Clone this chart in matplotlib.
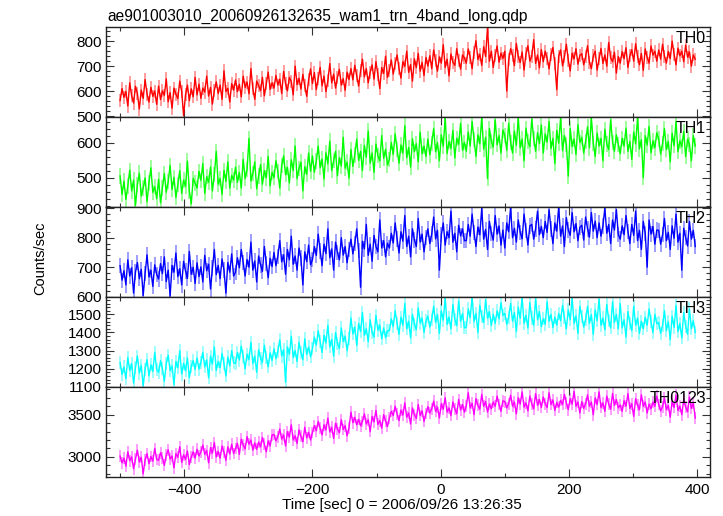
import numpy as np
import matplotlib
matplotlib.use("Agg")
import matplotlib.pyplot as plt
from matplotlib.ticker import MultipleLocator

plt.rcParams['font.family'] = ['Liberation Sans', 'DejaVu Sans']

title = "ae901003010_20060926132635_wam1_trn_4band_long.qdp"
xlabel = "Time [sec] 0 = 2006/09/26 13:26:35"
ylabel = "Counts/sec"
band_names = ["TH0", "TH1", "TH2", "TH3", "TH0123"]
band_colors = ["#ff0000", "#00ff00", "#0000ff", "#00ffff", "#ff00ff"]

# time bins: start (s) and bin width (s)
t_start = -500
t_bin = 3

th0 = [
    562, 610, 575, 598, 540, 633, 581, 552, 619, 590, 528, 604, 571, 646, 588, 556, 615, 579, 600, 547,
    620, 566, 601, 583, 649, 557, 594, 531, 612, 588, 570, 640, 599, 502, 585, 624, 562, 609, 577, 655,
    585, 628, 571, 612, 596, 660, 580, 615, 548, 603, 637, 590, 624, 567, 681, 598, 611, 556, 630, 604,
    645, 598, 627, 577, 660, 615, 636, 589, 690, 610, 567, 640, 622, 602, 655, 581, 629, 676, 607, 633,
    612, 663, 624, 648, 590, 679, 630, 601, 655, 638, 585, 700, 626, 651, 608, 667, 621, 579, 645, 689,
    630, 674, 606, 652, 695, 621, 660, 598, 641, 710, 633, 668, 612, 655, 687, 624, 650, 603, 676, 646,
    690, 645, 703, 662, 620, 681, 728, 657, 690, 633, 675, 705, 648, 718, 666, 610, 694, 671, 740, 655,
    683, 725, 668, 710, 745, 690, 652, 718, 699, 760, 675, 706, 640, 729, 694, 751, 680, 715, 662, 735,
    700, 742, 690, 765, 721, 680, 737, 712, 786, 695, 728, 661, 749, 716, 703, 770, 724, 688, 745, 733,
    712, 769, 735, 690, 756, 802, 727, 748, 703, 778, 739, 855, 720, 760, 695, 743, 781, 716, 752, 731,
    760, 600, 725, 770, 744, 702, 791, 738, 715, 757, 684, 749, 782, 720, 739, 806, 711, 745, 693, 766,
    718, 760, 731, 689, 745, 775, 712, 606, 740, 765, 701, 737, 788, 724, 681, 752, 729, 770, 708, 743,
    750, 705, 737, 782, 716, 690, 741, 760, 684, 729, 771, 711, 745, 700, 795, 733, 718, 756, 672, 738,
    712, 758, 730, 774, 695, 741, 766, 720, 790, 738, 705, 751, 683, 769, 735, 712, 781, 744, 760, 720,
    765, 728, 788, 740, 712, 759, 730, 800, 748, 705, 772, 741, 760, 718, 784, 736, 757, 700, 745, 728,
]
th1 = [
    505, 452, 490, 438, 476, 521, 462, 493, 420, 480, 513, 447, 470, 499, 431, 485, 528, 458, 474, 440,
    495, 428, 470, 512, 458, 488, 535, 466, 501, 443, 480, 520, 455, 493, 475, 547, 462, 425, 498, 484,
    470, 518, 492, 540, 455, 503, 486, 530, 462, 509, 575, 481, 497, 452, 521, 489, 545, 470, 506, 493,
    530, 486, 515, 470, 552, 497, 523, 612, 490, 512, 545, 468, 505, 537, 481, 520, 499, 560, 476, 515,
    500, 548, 517, 470, 535, 562, 508, 529, 485, 551, 520, 590, 497, 526, 544, 462, 531, 509, 570, 518,
    562, 515, 547, 590, 528, 553, 496, 571, 539, 604, 520, 548, 575, 505, 557, 533, 615, 527, 544, 498,
    580, 532, 565, 610, 549, 575, 520, 592, 558, 633, 541, 570, 515, 596, 563, 548, 620, 555, 581, 536,
    552, 600, 566, 625, 580, 541, 593, 570, 648, 557, 586, 530, 611, 574, 597, 545, 630, 568, 590, 560,
    610, 565, 598, 640, 574, 600, 548, 622, 590, 672, 569, 603, 583, 635, 556, 612, 595, 655, 578, 601,
    575, 630, 590, 660, 608, 560, 622, 596, 673, 581, 615, 497, 640, 603, 587, 665, 594, 620, 570, 636,
    620, 578, 655, 601, 570, 633, 592, 672, 585, 610, 548, 641, 603, 588, 667, 612, 575, 628, 597, 650,
    570, 625, 601, 660, 583, 612, 540, 635, 598, 672, 577, 620, 595, 504, 640, 589, 610, 566, 651, 600,
    615, 570, 603, 645, 585, 671, 598, 560, 627, 590, 612, 548, 638, 596, 580, 665, 601, 575, 622, 594,
    568, 612, 590, 641, 575, 603, 552, 630, 596, 670, 582, 608, 500, 620, 593, 646, 571, 605, 585, 628,
    610, 567, 598, 640, 580, 603, 545, 627, 591, 660, 574, 605, 588, 632, 560, 610, 595, 548, 620, 590,
]
th2 = [
    705, 656, 688, 640, 725, 670, 698, 612, 684, 716, 661, 693, 604, 679, 742, 667, 690, 635, 708, 676,
    660, 712, 678, 735, 651, 690, 602, 706, 683, 748, 668, 695, 640, 720, 687, 662, 753, 676, 700, 645,
    715, 668, 701, 650, 740, 688, 710, 626, 697, 760, 675, 706, 661, 728, 690, 612, 716, 683, 745, 670,
    683, 732, 698, 760, 715, 670, 726, 700, 785, 690, 721, 650, 738, 708, 686, 770, 712, 664, 730, 702,
    750, 705, 737, 790, 718, 742, 676, 760, 725, 805, 710, 738, 690, 765, 731, 640, 752, 719, 775, 708,
    725, 770, 740, 812, 755, 705, 778, 746, 830, 732, 762, 690, 785, 750, 725, 800, 741, 770, 715, 760,
    795, 745, 780, 830, 756, 632, 788, 762, 845, 740, 778, 720, 808, 770, 752, 860, 765, 790, 735, 781,
    765, 815, 782, 850, 795, 748, 820, 788, 875, 770, 805, 735, 830, 792, 770, 865, 785, 812, 752, 800,
    830, 780, 812, 870, 796, 825, 690, 810, 850, 775, 820, 800, 890, 785, 815, 752, 842, 806, 830, 790,
    790, 845, 805, 880, 818, 770, 836, 810, 900, 795, 828, 760, 855, 815, 792, 875, 812, 840, 775, 826,
    765, 850, 820, 904, 800, 832, 785, 860, 818, 796, 880, 825, 775, 840, 845, 795, 830, 890, 810, 838,
    800, 855, 818, 895, 830, 780, 850, 822, 904, 805, 840, 770, 868, 826, 808, 885, 820, 848, 790, 835,
    842, 792, 870, 830, 802, 885, 822, 856, 800, 850, 805, 840, 900, 815, 845, 780, 860, 826, 895, 810,
    795, 840, 810, 875, 822, 780, 845, 808, 890, 790, 825, 760, 855, 815, 700, 860, 812, 838, 778, 826,
    825, 778, 810, 865, 790, 818, 760, 840, 798, 880, 785, 815, 690, 832, 800, 772, 855, 795, 825, 770,
]
th3 = [
    1235, 1168, 1210, 1145, 1262, 1190, 1228, 1120, 1205, 1270, 1176, 1218, 1105, 1198, 1250, 1160, 1222, 1185, 1290, 1195,
    1180, 1245, 1200, 1130, 1228, 1275, 1190, 1215, 1112, 1240, 1205, 1300, 1170, 1230, 1188, 1260, 1150, 1212, 1245, 1196,
    1260, 1198, 1235, 1290, 1210, 1248, 1150, 1270, 1225, 1320, 1190, 1240, 1205, 1285, 1228, 1160, 1265, 1215, 1300, 1232,
    1230, 1290, 1248, 1325, 1265, 1200, 1280, 1250, 1345, 1228, 1270, 1180, 1305, 1258, 1235, 1330, 1262, 1210, 1288, 1245,
    1310, 1255, 1295, 1360, 1270, 1305, 1125, 1320, 1280, 1380, 1262, 1300, 1240, 1345, 1290, 1250, 1365, 1278, 1320, 1265,
    1310, 1375, 1330, 1410, 1350, 1290, 1385, 1342, 1440, 1320, 1362, 1270, 1400, 1338, 1312, 1425, 1350, 1380, 1300, 1365,
    1480, 1392, 1430, 1330, 1450, 1405, 1510, 1385, 1420, 1350, 1470, 1402, 1375, 1495, 1412, 1440, 1365, 1425, 1370, 1410,
    1410, 1475, 1432, 1520, 1450, 1390, 1485, 1440, 1560, 1420, 1462, 1370, 1500, 1445, 1415, 1535, 1452, 1480, 1400, 1465,
    1490, 1430, 1472, 1545, 1455, 1500, 1395, 1520, 1468, 1590, 1445, 1485, 1420, 1555, 1470, 1438, 1575, 1462, 1505, 1425,
    1430, 1530, 1482, 1596, 1460, 1505, 1400, 1550, 1488, 1455, 1580, 1478, 1515, 1440, 1500, 1450, 1520, 1475, 1565, 1495,
    1505, 1445, 1485, 1560, 1462, 1510, 1405, 1540, 1478, 1596, 1450, 1495, 1425, 1565, 1480, 1440, 1585, 1470, 1515, 1432,
    1475, 1445, 1570, 1462, 1500, 1428, 1485, 1440, 1505, 1465, 1550, 1482, 1420, 1525, 1470, 1590, 1450, 1492, 1395, 1545,
    1490, 1430, 1472, 1545, 1450, 1498, 1390, 1525, 1465, 1585, 1440, 1480, 1415, 1555, 1468, 1425, 1570, 1455, 1500, 1420,
    1560, 1425, 1470, 1375, 1515, 1452, 1410, 1545, 1440, 1480, 1395, 1462, 1420, 1485, 1440, 1530, 1460, 1400, 1500, 1448,
    1455, 1395, 1440, 1520, 1410, 1460, 1360, 1490, 1428, 1550, 1405, 1450, 1370, 1510, 1435, 1390, 1530, 1420, 1465, 1400,
]
th0123 = [
    3010, 2930, 2985, 2890, 3060, 2955, 3000, 2860, 2975, 3080, 2940, 2995, 2800, 2965, 3040, 2920, 3005, 2950, 3100, 2970,
    2960, 3050, 2990, 2900, 3020, 3085, 2975, 3010, 2870, 3040, 2995, 3120, 2935, 3025, 2970, 3070, 2910, 3000, 3060, 2985,
    3090, 3010, 3060, 3140, 3030, 3075, 2930, 3110, 3045, 3170, 3000, 3065, 2985, 3130, 3055, 2960, 3120, 3035, 3150, 3040,
    3100, 3160, 3030, 3210, 3140, 3095, 3240, 3150, 3200, 3080, 3165, 3090, 3175, 3120, 3230, 3150, 3060, 3190, 3130, 3260,
    3265, 3190, 3240, 3330, 3210, 3260, 3130, 3300, 3235, 3380, 3200, 3250, 3160, 3320, 3245, 3180, 3350, 3225, 3290, 3200,
    3290, 3370, 3310, 3420, 3340, 3260, 3380, 3320, 3460, 3295, 3350, 3220, 3400, 3330, 3285, 3440, 3325, 3370, 3250, 3345,
    3530, 3405, 3470, 3380, 3445, 3370, 3420, 3510, 3390, 3440, 3300, 3480, 3415, 3550, 3385, 3430, 3340, 3500, 3425, 3360,
    3460, 3540, 3490, 3600, 3510, 3430, 3555, 3495, 3640, 3470, 3520, 3390, 3580, 3500, 3455, 3620, 3490, 3545, 3420, 3515,
    3595, 3520, 3570, 3660, 3540, 3590, 3460, 3630, 3565, 3700, 3530, 3580, 3490, 3650, 3570, 3510, 3680, 3555, 3620, 3530,
    3605, 3760, 3580, 3635, 3500, 3690, 3610, 3565, 3740, 3600, 3655, 3530, 3625, 3570, 3650, 3600, 3720, 3620, 3540, 3665,
    3655, 3580, 3630, 3730, 3600, 3650, 3510, 3700, 3625, 3770, 3590, 3640, 3545, 3720, 3630, 3570, 3750, 3610, 3680, 3585,
    3710, 3630, 3585, 3760, 3620, 3675, 3550, 3645, 3590, 3670, 3620, 3740, 3640, 3560, 3690, 3625, 3775, 3600, 3650, 3520,
    3655, 3575, 3630, 3735, 3600, 3650, 3500, 3700, 3620, 3770, 3585, 3640, 3540, 3720, 3625, 3565, 3750, 3610, 3680, 3580,
    3615, 3540, 3665, 3600, 3750, 3575, 3630, 3480, 3690, 3610, 3560, 3735, 3600, 3650, 3520, 3625, 3570, 3650, 3600, 3720,
    3620, 3545, 3595, 3700, 3560, 3610, 3470, 3660, 3585, 3730, 3550, 3600, 3500, 3680, 3590, 3535, 3710, 3575, 3640, 3460,
]
band_values = [th0, th1, th2, th3, th0123]
band_errors = [26, 22, 26, 36, 70]

y_limits = [(496, 857), (416, 673), (599, 904), (1099, 1596), (2762, 3828)]
y_major = [100, 100, 100, 100, 500]
y_minor = [20, 20, 20, 20, 100]
x_limits = (-522, 420)

W, H = 723, 516
fig = plt.figure(figsize=(W / 100, H / 100), dpi=100)
left, right = 106 / W, 710 / W
top, bottom = 1 - 27 / H, 1 - 477 / H
axes = fig.subplots(5, 1, sharex=True, gridspec_kw=dict(hspace=0))
fig.subplots_adjust(left=left, right=right, top=top, bottom=bottom, hspace=0)

for ax, name, col, vals, err, ylim, ymaj, ymin in zip(
        axes, band_names, band_colors, band_values, band_errors, y_limits, y_major, y_minor):
    v = np.asarray(vals, dtype=float)
    t = t_start + t_bin * np.arange(len(v))
    ax.errorbar(t, v, yerr=err, fmt='none', ecolor=col, elinewidth=1.2, alpha=0.45, zorder=1)
    ax.plot(t, v, color=col, lw=1.0, zorder=2)
    ax.set_xlim(*x_limits)
    ax.set_ylim(*ylim)
    ax.yaxis.set_major_locator(MultipleLocator(ymaj))
    ax.yaxis.set_minor_locator(MultipleLocator(ymin))
    ax.xaxis.set_major_locator(MultipleLocator(200))
    ax.xaxis.set_minor_locator(MultipleLocator(100))
    ax.tick_params(which='both', direction='in', top=True, right=True, width=0.8, colors='#333333',
                   labelcolor='black', labelsize=11)
    ax.tick_params(which='major', length=6)
    ax.tick_params(which='minor', length=3)
    ax.tick_params(axis='y', pad=3)
    ax.tick_params(axis='x', pad=4)
    for s in ax.spines.values():
        s.set_linewidth(1.0)
        s.set_color('#222222')
    ax.text(0.993, 0.955, name, transform=ax.transAxes, ha='right', va='top', fontsize=11.5, zorder=5)
    if ax is not axes[-1]:
        ax.tick_params(labelbottom=False)

axes[-1].set_xticks([-400, -200, 0, 200, 400])
axes[-1].set_xticklabels(['\u2212400', '\u2212200', '0', '200', '400'])

fig.text(107 / W, 1 - 20.5 / H, title, ha='left', va='baseline', fontsize=11.2)
fig.text(402 / W, 1 - 509 / H, xlabel, ha='center', va='baseline', fontsize=11)
fig.text(40 / W, 1 - 258 / H, ylabel, ha='center', va='center', rotation=90, fontsize=10.5)

fig.savefig("out.png", dpi=100)
